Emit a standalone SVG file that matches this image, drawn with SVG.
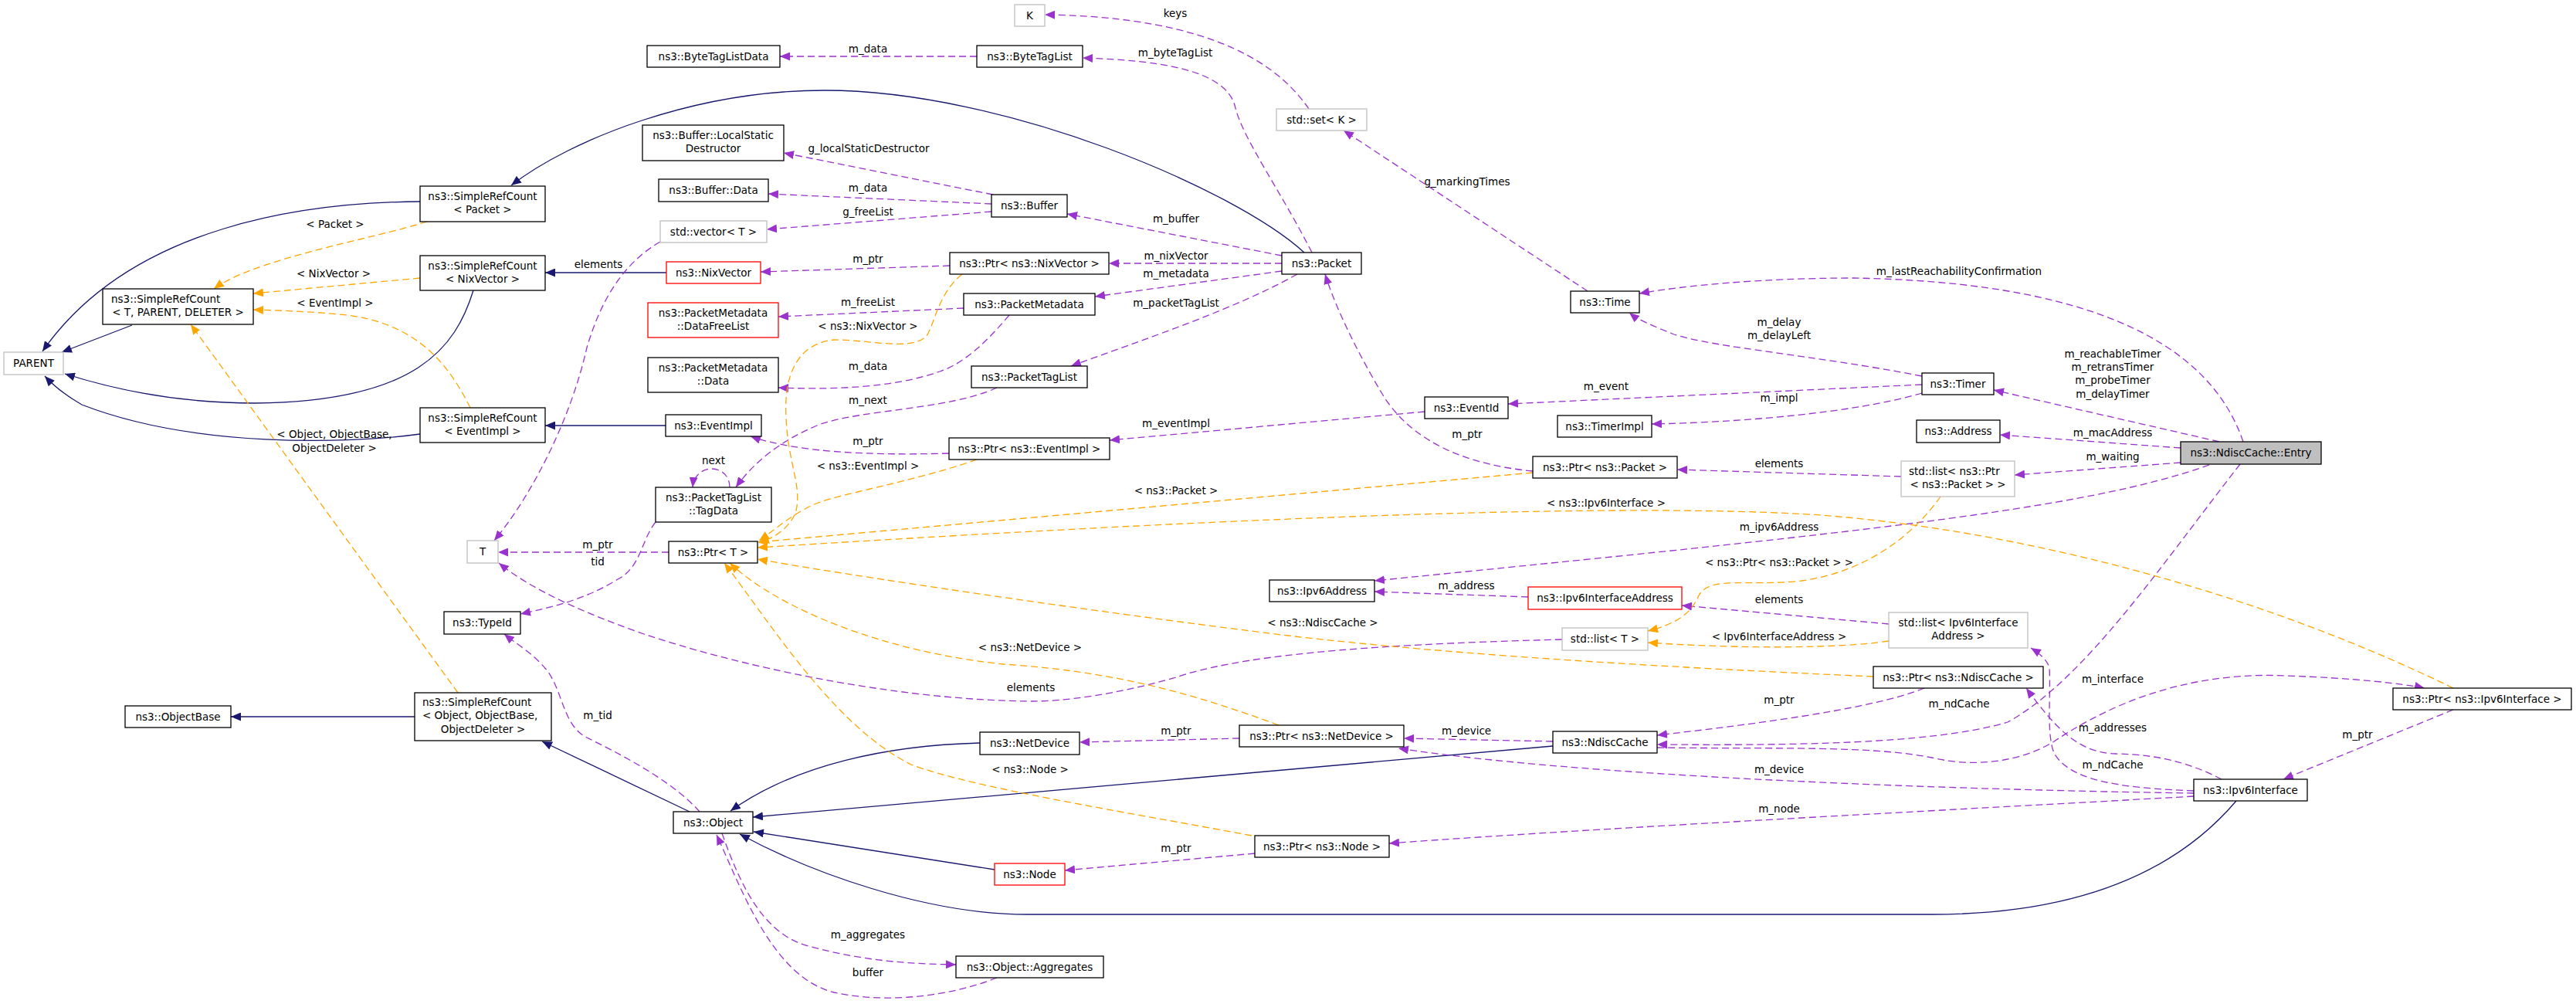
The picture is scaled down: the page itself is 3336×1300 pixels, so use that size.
<svg xmlns="http://www.w3.org/2000/svg" width="3336" height="1300" viewBox="0 0 3336 1300">
<style>
text{font-family:"DejaVu Sans","Liberation Sans",sans-serif;font-size:13.5px;fill:#000;text-anchor:middle}
.n rect{fill:#fff;stroke:#000;stroke-width:1.3}
.g rect{fill:#fff;stroke:#bfbfbf;stroke-width:1.3}
.r rect{fill:#fff;stroke:#ff0000;stroke-width:1.3}
.f rect{fill:#bfbfbf;stroke:#000;stroke-width:1.3}
.ls{text-anchor:start}
#edges path{fill:none;stroke-width:1.3}
.i{stroke:#191970;marker-end:url(#mn)}
.p{stroke:#9a32cd;stroke-dasharray:9,5;marker-end:url(#mp)}
.o{stroke:#ffa500;stroke-dasharray:9,5;marker-end:url(#mo)}
</style>
<defs>
<marker id="mn" markerUnits="userSpaceOnUse" markerWidth="14" markerHeight="11" refX="13" refY="5.5" orient="auto"><path d="M0,0 L13,5.5 L0,11 z" fill="#191970"/></marker>
<marker id="mp" markerUnits="userSpaceOnUse" markerWidth="14" markerHeight="11" refX="13" refY="5.5" orient="auto"><path d="M0,0 L13,5.5 L0,11 z" fill="#9a32cd"/></marker>
<marker id="mo" markerUnits="userSpaceOnUse" markerWidth="14" markerHeight="11" refX="13" refY="5.5" orient="auto"><path d="M0,0 L13,5.5 L0,11 z" fill="#ffa500"/></marker>
</defs>
<rect width="3336" height="1300" fill="#fff"/>
<g id="edges">
<path class="i" d="M1689,327 C1600,245 1300,117 1068,117 C900,117 740,180 662,240"/>
<path class="i" d="M544,261 C400,262 170,290 55,455"/>
<path class="i" d="M171,421 L80,456"/>
<path class="i" d="M613,376 C590,450 540,520 330,522 C230,522 150,505 84,484"/>
<path class="i" d="M544,562 C450,575 250,580 106,524 C85,512 70,500 58,487"/>
<path class="i" d="M863,353 L706,353"/>
<path class="i" d="M862,551 L706,551"/>
<path class="i" d="M537,928 L299,928"/>
<path class="i" d="M893,1051 L702,960"/>
<path class="i" d="M1269,962 C1150,965 1030,990 946,1050"/>
<path class="i" d="M2011,966 L975,1058"/>
<path class="i" d="M1288,1126 L976,1077"/>
<path class="i" d="M2896,1037 C2800,1150 2650,1184 2502,1184 L1330,1184 C1200,1184 1050,1130 958,1080"/>

<path class="p" d="M1265,73 L1010,73"/>
<path class="p" d="M1699,327 C1660,250 1610,180 1600,140 C1590,90 1500,78 1402,75"/>
<path class="p" d="M1695,141 C1660,90 1580,22 1353,19"/>
<path class="p" d="M2056,377 L1740,169"/>
<path class="p" d="M2905,572 C2860,440 2700,365 2400,360 C2280,360 2180,370 2123,380"/>
<path class="p" d="M1286,252 L1015,198"/>
<path class="p" d="M1284,264 L995,251"/>
<path class="p" d="M1284,274 L993,297"/>
<path class="p" d="M1660,331 L1382,277"/>
<path class="p" d="M1660,341 L1436,341"/>
<path class="p" d="M1660,351 L1418,384"/>
<path class="p" d="M1680,355 C1600,400 1480,440 1387,474"/>
<path class="p" d="M1230,344 L985,352"/>
<path class="p" d="M1248,399 L1008,410"/>
<path class="p" d="M1307,408 C1280,440 1250,470 1217,481 C1150,505 1060,504 1008,502"/>
<path class="p" d="M1291,502 C1230,530 1120,530 1063,549 C1010,570 975,600 953,631"/>
<path class="p" d="M945,631 C945,600 900,598 897,631"/>
<path class="p" d="M1229,587 C1120,590 1030,585 972,565"/>
<path class="p" d="M1845,533 L1437,570"/>
<path class="p" d="M1985,610 C1880,600 1820,560 1790,510 C1760,460 1730,400 1716,355"/>
<path class="p" d="M2489,487 C2350,460 2220,450 2168,433 C2140,422 2120,413 2110,405"/>
<path class="p" d="M2489,498 L1953,523"/>
<path class="p" d="M2489,509 C2400,535 2250,547 2139,549"/>
<path class="p" d="M2462,617 L2172,608"/>
<path class="p" d="M2874,572 L2582,505"/>
<path class="p" d="M2824,580 L2590,563"/>
<path class="p" d="M2824,599 L2609,615"/>
<path class="p" d="M2861,602 C2700,660 2400,690 1780,752"/>
<path class="p" d="M1979,773 L1780,766"/>
<path class="p" d="M2446,808 L2178,784"/>
<path class="p" d="M2023,828 C1750,835 1600,850 1520,878 C1440,900 1380,908 1334,908 C1150,906 950,860 834,821 C760,795 690,765 646,729"/>
<path class="p" d="M855,313 C800,345 775,400 760,450 C740,540 690,640 640,700"/>
<path class="p" d="M866,715 L645,715"/>
<path class="p" d="M849,676 C830,700 830,735 800,750 C760,775 720,785 674,795"/>
<path class="p" d="M906,1051 C870,1010 800,975 760,955 C730,940 730,900 710,870 C690,845 670,835 653,821"/>
<path class="p" d="M2011,960 L1818,956"/>
<path class="p" d="M2841,1027 C2500,1022 2050,1005 1811,969"/>
<path class="p" d="M2841,1031 C2600,1045 2100,1070 1799,1092"/>
<path class="p" d="M1625,1105 L1379,1127"/>
<path class="p" d="M1605,956 L1398,961"/>
<path class="p" d="M935,1079 C960,1150 990,1210 1047,1225 C1120,1245 1180,1248 1238,1249"/>
<path class="p" d="M1291,1266 C1230,1290 1150,1300 1080,1285 C1000,1265 960,1150 928,1081"/>
<path class="p" d="M2492,891 C2420,920 2250,940 2146,952"/>
<path class="p" d="M2901,601 C2800,730 2700,880 2600,935 C2500,965 2300,965 2146,964"/>
<path class="p" d="M2877,1009 C2840,990 2800,977 2740,976 C2690,975 2660,940 2624,891"/>
<path class="p" d="M2841,1024 C2740,1020 2680,1010 2660,975 C2650,950 2656,900 2654,865 C2652,855 2640,845 2630,839"/>
<path class="p" d="M2146,968 C2300,970 2420,965 2502,981 C2560,995 2620,985 2660,960 C2750,900 2850,870 2960,875 C3050,878 3110,885 3140,891"/>
<path class="p" d="M3177,919 L2957,1009"/>

<path class="o" d="M553,287 C480,310 330,335 277,374"/>
<path class="o" d="M544,360 L328,380"/>
<path class="o" d="M609,528 C580,470 540,420 450,408 C400,403 360,402 328,401"/>
<path class="o" d="M593,897 L247,420"/>
<path class="o" d="M1246,355 C1215,380 1210,420 1200,435 C1180,455 1130,440 1080,440 C1030,445 1015,490 1018,540 C1020,600 1040,630 1030,665 C1020,685 1005,695 983,703"/>
<path class="o" d="M1265,595 C1180,625 1080,640 1050,655 C1020,670 1005,685 983,700"/>
<path class="o" d="M1985,612 L981,702"/>
<path class="o" d="M3177,891 C2950,780 2650,690 2359,667 C2100,650 1600,670 981,709"/>
<path class="o" d="M1656,939 C1550,900 1450,870 1300,860 C1150,845 1010,790 945,729"/>
<path class="o" d="M1621,1082 C1450,1050 1260,1020 1180,990 C1080,940 1000,810 938,729"/>
<path class="o" d="M2426,876 C2200,866 1900,850 1668,823 C1400,790 1100,745 981,724"/>
<path class="o" d="M2513,643 C2480,690 2420,740 2333,752 C2260,760 2215,745 2200,771 C2190,795 2170,808 2134,817"/>
<path class="o" d="M2446,830 C2380,840 2250,840 2134,832"/>

<g id="edge-labels">
<text x="1124" y="68">m_data</text>
<text x="1522" y="73">m_byteTagList</text>
<text x="1522" y="22">keys</text>
<text x="1900" y="240">g_markingTimes</text>
<text x="2537" y="356">m_lastReachabilityConfirmation</text>
<text x="1125" y="197">g_localStaticDestructor</text>
<text x="1124" y="248">m_data</text>
<text x="1124" y="279">g_freeList</text>
<text x="1523" y="288">m_buffer</text>
<text x="1523" y="336">m_nixVector</text>
<text x="1523" y="359">m_metadata</text>
<text x="1523" y="397">m_packetTagList</text>
<text x="1124" y="340">m_ptr</text>
<text x="1124" y="396">m_freeList</text>
<text x="1124" y="479">m_data</text>
<text x="1124" y="523">m_next</text>
<text x="924" y="601">next</text>
<text x="1124" y="576">m_ptr</text>
<text x="1523" y="553">m_eventImpl</text>
<text x="1900" y="567">m_ptr</text>
<text x="2304" y="422">m_delay</text>
<text x="2304" y="439">m_delayLeft</text>
<text x="2080" y="505">m_event</text>
<text x="2304" y="520">m_impl</text>
<text x="2304" y="605">elements</text>
<text x="2736" y="463">m_reachableTimer</text>
<text x="2736" y="480">m_retransTimer</text>
<text x="2736" y="497">m_probeTimer</text>
<text x="2736" y="515">m_delayTimer</text>
<text x="2736" y="565">m_macAddress</text>
<text x="2736" y="596">m_waiting</text>
<text x="2304" y="687">m_ipv6Address</text>
<text x="1899" y="763">m_address</text>
<text x="2304" y="781">elements</text>
<text x="1335" y="895">elements</text>
<text x="775" y="347">elements</text>
<text x="774" y="710">m_ptr</text>
<text x="774" y="732">tid</text>
<text x="774" y="931">m_tid</text>
<text x="1899" y="951">m_device</text>
<text x="2304" y="1001">m_device</text>
<text x="2304" y="1052">m_node</text>
<text x="1523" y="1103">m_ptr</text>
<text x="1523" y="951">m_ptr</text>
<text x="1124" y="1215">m_aggregates</text>
<text x="1124" y="1264">buffer</text>
<text x="2304" y="911">m_ptr</text>
<text x="2537" y="916">m_ndCache</text>
<text x="2736" y="995">m_ndCache</text>
<text x="2736" y="947">m_addresses</text>
<text x="2736" y="884">m_interface</text>
<text x="3053" y="956">m_ptr</text>
<text x="434" y="295">&lt; Packet &gt;</text>
<text x="432" y="359">&lt; NixVector &gt;</text>
<text x="434" y="397">&lt; EventImpl &gt;</text>
<text x="433" y="567">&lt; Object, ObjectBase,</text>
<text x="433" y="585">ObjectDeleter &gt;</text>
<text x="1124" y="427">&lt; ns3::NixVector &gt;</text>
<text x="1124" y="608">&lt; ns3::EventImpl &gt;</text>
<text x="1523" y="640">&lt; ns3::Packet &gt;</text>
<text x="2080" y="656">&lt; ns3::Ipv6Interface &gt;</text>
<text x="1334" y="843">&lt; ns3::NetDevice &gt;</text>
<text x="1334" y="1001">&lt; ns3::Node &gt;</text>
<text x="1713" y="811">&lt; ns3::NdiscCache &gt;</text>
<text x="2304" y="733">&lt; ns3::Ptr&lt; ns3::Packet &gt; &gt;</text>
<text x="2304" y="829">&lt; Ipv6InterfaceAddress &gt;</text>
</g>
</g>

<g id="n-bytetaglistdata" class="n"><rect x="838" y="59" width="172" height="28"/><text x="924" y="78">ns3::ByteTagListData</text></g>
<g id="n-bytetaglist" class="n"><rect x="1265" y="59" width="137" height="28"/><text x="1333.5" y="78">ns3::ByteTagList</text></g>
<g id="n-k" class="g"><rect x="1314" y="6" width="39" height="28"/><text x="1333.5" y="25">K</text></g>
<g id="n-stdset" class="g"><rect x="1653" y="141" width="117" height="28"/><text x="1711.5" y="160">std::set&lt; K &gt;</text></g>
<g id="n-localstatic" class="n"><rect x="832" y="162" width="183" height="46"/><text x="923.5" y="180">ns3::Buffer::LocalStatic</text><text x="923.5" y="197">Destructor</text></g>
<g id="n-bufferdata" class="n"><rect x="853" y="232" width="142" height="29"/><text x="924" y="251">ns3::Buffer::Data</text></g>
<g id="n-buffer" class="n"><rect x="1284" y="252" width="98" height="29"/><text x="1333" y="271">ns3::Buffer</text></g>
<g id="n-stdvector" class="g"><rect x="855" y="286" width="138" height="28"/><text x="924" y="305">std::vector&lt; T &gt;</text></g>
<g id="n-nixvector" class="r"><rect x="863" y="339" width="122" height="28"/><text x="924" y="358">ns3::NixVector</text></g>
<g id="n-ptrnixvector" class="n"><rect x="1230" y="327" width="206" height="28"/><text x="1333" y="346">ns3::Ptr&lt; ns3::NixVector &gt;</text></g>
<g id="n-packetmetadata" class="n"><rect x="1248" y="380" width="170" height="28"/><text x="1333" y="399">ns3::PacketMetadata</text></g>
<g id="n-datafreelist" class="r"><rect x="839" y="392" width="169" height="45"/><text x="923.5" y="410">ns3::PacketMetadata</text><text x="923.5" y="427">::DataFreeList</text></g>
<g id="n-packet" class="n"><rect x="1660" y="327" width="103" height="28"/><text x="1711.5" y="346">ns3::Packet</text></g>
<g id="n-time" class="n"><rect x="2034" y="377" width="89" height="28"/><text x="2078.5" y="396">ns3::Time</text></g>
<g id="n-src-packet" class="n"><rect x="544" y="241" width="162" height="46"/><text x="625" y="259">ns3::SimpleRefCount</text><text x="625" y="276">&lt; Packet &gt;</text></g>
<g id="n-src-nixvector" class="n"><rect x="544" y="331" width="162" height="45"/><text x="625" y="349">ns3::SimpleRefCount</text><text x="625" y="366">&lt; NixVector &gt;</text></g>
<g id="n-src-t" class="n"><rect x="133" y="374" width="195" height="46"/><text class="ls" x="144" y="392">ns3::SimpleRefCount</text><text x="230.5" y="409">&lt; T, PARENT, DELETER &gt;</text></g>
<g id="n-parent" class="g"><rect x="5" y="456" width="77" height="29"/><text x="43.5" y="475">PARENT</text></g>
<g id="n-src-eventimpl" class="n"><rect x="544" y="528" width="162" height="45"/><text x="625" y="546">ns3::SimpleRefCount</text><text x="625" y="563">&lt; EventImpl &gt;</text></g>
<g id="n-t" class="g"><rect x="605" y="700" width="40" height="29"/><text x="625" y="719">T</text></g>
<g id="n-typeid" class="n"><rect x="575" y="792" width="99" height="29"/><text x="624.5" y="811">ns3::TypeId</text></g>
<g id="n-pmdata" class="n"><rect x="839" y="463" width="169" height="45"/><text x="923.5" y="481">ns3::PacketMetadata</text><text x="923.5" y="498">::Data</text></g>
<g id="n-packettaglist" class="n"><rect x="1258" y="474" width="150" height="28"/><text x="1333" y="493">ns3::PacketTagList</text></g>
<g id="n-eventimpl" class="n"><rect x="862" y="537" width="124" height="28"/><text x="924" y="556">ns3::EventImpl</text></g>
<g id="n-ptreventimpl" class="n"><rect x="1229" y="567" width="208" height="28"/><text x="1333" y="586">ns3::Ptr&lt; ns3::EventImpl &gt;</text></g>
<g id="n-tagdata" class="n"><rect x="849" y="631" width="150" height="45"/><text x="924" y="649">ns3::PacketTagList</text><text x="924" y="666">::TagData</text></g>
<g id="n-ptrt" class="n"><rect x="866" y="701" width="115" height="28"/><text x="923.5" y="720">ns3::Ptr&lt; T &gt;</text></g>
<g id="n-eventid" class="n"><rect x="1845" y="514" width="108" height="28"/><text x="1899" y="533">ns3::EventId</text></g>
<g id="n-timerimpl" class="n"><rect x="2017" y="538" width="122" height="28"/><text x="2078" y="557">ns3::TimerImpl</text></g>
<g id="n-ptrpacket" class="n"><rect x="1985" y="591" width="187" height="28"/><text x="2078.5" y="610">ns3::Ptr&lt; ns3::Packet &gt;</text></g>
<g id="n-ipv6address" class="n"><rect x="1644" y="751" width="136" height="28"/><text x="1712" y="770">ns3::Ipv6Address</text></g>
<g id="n-ipv6ifaddr" class="r"><rect x="1979" y="760" width="199" height="29"/><text x="2078.5" y="779">ns3::Ipv6InterfaceAddress</text></g>
<g id="n-stdlist-t" class="g"><rect x="2023" y="813" width="111" height="29"/><text x="2078.5" y="832">std::list&lt; T &gt;</text></g>
<g id="n-stdlist-ptrpacket" class="g"><rect x="2462" y="597" width="147" height="46"/><text class="ls" x="2472" y="615">std::list&lt; ns3::Ptr</text><text x="2535.5" y="632">&lt; ns3::Packet &gt; &gt;</text></g>
<g id="n-stdlist-ifaddr" class="g"><rect x="2446" y="793" width="180" height="46"/><text x="2536" y="811">std::list&lt; Ipv6Interface</text><text x="2536" y="828">Address &gt;</text></g>
<g id="n-timer" class="n"><rect x="2489" y="483" width="93" height="28"/><text x="2535.5" y="502">ns3::Timer</text></g>
<g id="n-address" class="n"><rect x="2482" y="544" width="108" height="29"/><text x="2536" y="563">ns3::Address</text></g>
<g id="n-entry" class="f"><rect x="2824" y="572" width="182" height="29"/><text x="2915" y="591">ns3::NdiscCache::Entry</text></g>
<g id="n-ptrnetdevice" class="n"><rect x="1605" y="939" width="213" height="28"/><text x="1711.5" y="958">ns3::Ptr&lt; ns3::NetDevice &gt;</text></g>
<g id="n-ndisccache" class="n"><rect x="2011" y="947" width="135" height="28"/><text x="2078.5" y="966">ns3::NdiscCache</text></g>
<g id="n-ptrnode" class="n"><rect x="1625" y="1082" width="174" height="28"/><text x="1712" y="1101">ns3::Ptr&lt; ns3::Node &gt;</text></g>
<g id="n-ptrndisccache" class="n"><rect x="2426" y="863" width="220" height="28"/><text x="2536" y="882">ns3::Ptr&lt; ns3::NdiscCache &gt;</text></g>
<g id="n-ptripv6interface" class="n"><rect x="3099" y="891" width="231" height="28"/><text x="3214.5" y="910">ns3::Ptr&lt; ns3::Ipv6Interface &gt;</text></g>
<g id="n-ipv6interface" class="n"><rect x="2841" y="1009" width="147" height="28"/><text x="2914.5" y="1028">ns3::Ipv6Interface</text></g>
<g id="n-objectbase" class="n"><rect x="162" y="914" width="137" height="28"/><text x="230.5" y="933">ns3::ObjectBase</text></g>
<g id="n-src-object" class="n"><rect x="537" y="897" width="177" height="62"/><text class="ls" x="547" y="914">ns3::SimpleRefCount</text><text class="ls" x="547" y="931">&lt; Object, ObjectBase,</text><text x="625.5" y="949">ObjectDeleter &gt;</text></g>
<g id="n-netdevice" class="n"><rect x="1269" y="948" width="129" height="29"/><text x="1333.5" y="967">ns3::NetDevice</text></g>
<g id="n-object" class="n"><rect x="872" y="1051" width="103" height="28"/><text x="923.5" y="1070">ns3::Object</text></g>
<g id="n-node" class="r"><rect x="1288" y="1118" width="91" height="28"/><text x="1333.5" y="1137">ns3::Node</text></g>
<g id="n-aggregates" class="n"><rect x="1238" y="1238" width="191" height="28"/><text x="1333.5" y="1257">ns3::Object::Aggregates</text></g>
</svg>
